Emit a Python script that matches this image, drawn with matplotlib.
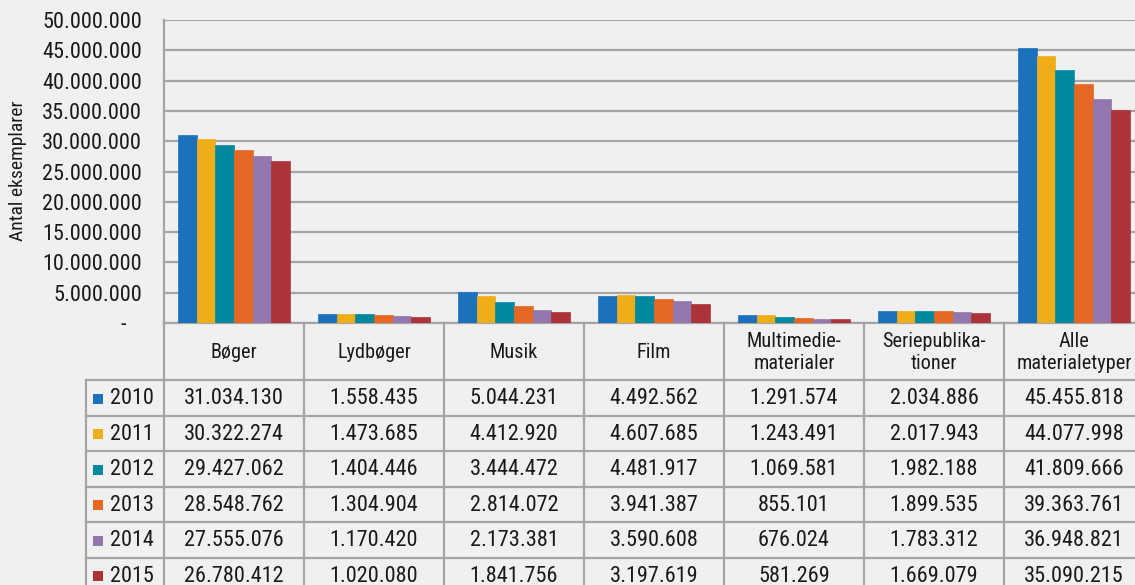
import matplotlib
matplotlib.use("Agg")
import matplotlib.pyplot as plt
import matplotlib.transforms as mtransforms
from matplotlib import font_manager
import numpy as np

categories = ["Bøger", "Lydbøger", "Musik", "Film", "Multimedie-\nmaterialer",
              "Seriepublika-\ntioner", "Alle\nmaterialetyper"]
years = ["2010", "2011", "2012", "2013", "2014", "2015"]
v2010 = [31034130, 1558435, 5044231, 4492562, 1291574, 2034886, 45455818]
v2011 = [30322274, 1473685, 4412920, 4607685, 1243491, 2017943, 44077998]
v2012 = [29427062, 1404446, 3444472, 4481917, 1069581, 1982188, 41809666]
v2013 = [28548762, 1304904, 2814072, 3941387, 855101, 1899535, 39363761]
v2014 = [27555076, 1170420, 2173381, 3590608, 676024, 1783312, 36948821]
v2015 = [26780412, 1020080, 1841756, 3197619, 581269, 1669079, 35090215]
series = [v2010, v2011, v2012, v2013, v2014, v2015]
colors = ["#1c71bc", "#efae17", "#00889e", "#e66722", "#9177ae", "#ac3337"]

bg = "#eff0ef"
grid_c = "#a5a5a5"
txt_c = "#1a1a1a"

# pick a narrow font if one is around, else Roboto
installed = {f.name for f in font_manager.fontManager.ttflist}
font = "Roboto"
for cand in ["Liberation Sans Narrow", "Roboto Condensed", "Open Sans Condensed", "Roboto"]:
    if cand in installed:
        font = cand
        break
plt.rcParams["font.family"] = [font, "DejaVu Sans"]
fs_num = 16
fs_head = 14.6

W, H = 1135, 585
fig = plt.figure(figsize=(W / 100, H / 100), dpi=100, facecolor=bg)
# axes: x from 164px, 140px per category; y from 20px (50M) to 323px (0)
ax = fig.add_axes([164 / W, 1 - 323 / H, 7 * 140 / W, 303 / H], facecolor=bg)

n = len(categories)
x = np.arange(n)
bw = 0.8 / 6
for i, (vals, c) in enumerate(zip(series, colors)):
    ax.bar(x - 0.4 + bw * (i + 0.5), vals, width=bw, color=c,
           edgecolor=c, linewidth=0.5, zorder=3)

ax.set_xlim(-0.5, n - 0.5)
ax.set_ylim(0, 50000000)
ax.set_yticks(np.arange(0, 50000001, 5000000))
ax.set_yticklabels(["-   "] + [f"{v:,}".replace(",", ".") for v in range(5000000, 50000001, 5000000)],
                   fontsize=fs_num, color=txt_c)
ax.set_xticks([])
ax.tick_params(axis="y", length=0, pad=16)
ax.yaxis.grid(True, color=grid_c, linewidth=1.6, zorder=0)
for s in ["top", "right"]:
    ax.spines[s].set_visible(False)
for s in ["left", "bottom"]:
    ax.spines[s].set_color(grid_c)
    ax.spines[s].set_linewidth(1.6)
ax.set_ylabel("Antal eksemplarer", fontsize=14, color=txt_c)
ax.yaxis.set_label_coords(-(164 - 27) / 980, (323 - 171) / 303)

# data table under the chart: x in data units, y in figure pixels (from top)
tr = mtransforms.blended_transform_factory(ax.transData, fig.transFigure)
def fy(p):
    return 1 - p / H

head_top, head_bot, row_h = 323, 380, 35.5
leg_left = -0.5 - 78 / 140
bottom = H + 20
lkw = dict(color=grid_c, linewidth=1.6, transform=tr, clip_on=False)

for b in np.arange(-0.5, n + 0.5, 1.0):
    ax.plot([b, b], [fy(head_top), fy(bottom)], **lkw)
ax.plot([leg_left, leg_left], [fy(head_bot), fy(bottom)], **lkw)
for r in range(len(years) + 1):
    yy = head_bot + r * row_h
    ax.plot([leg_left, n + 0.5], [fy(yy), fy(yy)], **lkw)

for j, cat in enumerate(categories):
    ax.text(j, fy((head_top + head_bot) / 2 + 1), cat, ha="center", va="center",
            fontsize=fs_head, color=txt_c, transform=tr, linespacing=1.2)

for i, (yr, vals, c) in enumerate(zip(years, series, colors)):
    yc = fy(head_bot + row_h * (i + 0.5) + 1)
    ax.scatter([leg_left + 12 / 140], [yc], marker="s", s=52, color=c,
               linewidths=0, transform=tr, clip_on=False, zorder=5)
    ax.text(leg_left + 24 / 140, yc, yr, ha="left", va="center",
            fontsize=fs_num, color=txt_c, transform=tr)
    for j, v in enumerate(vals):
        ax.text(j, yc, f"{v:,}".replace(",", "."), ha="center", va="center",
                fontsize=fs_num, color=txt_c, transform=tr)

fig.savefig("out.png", dpi=100, facecolor=bg)
